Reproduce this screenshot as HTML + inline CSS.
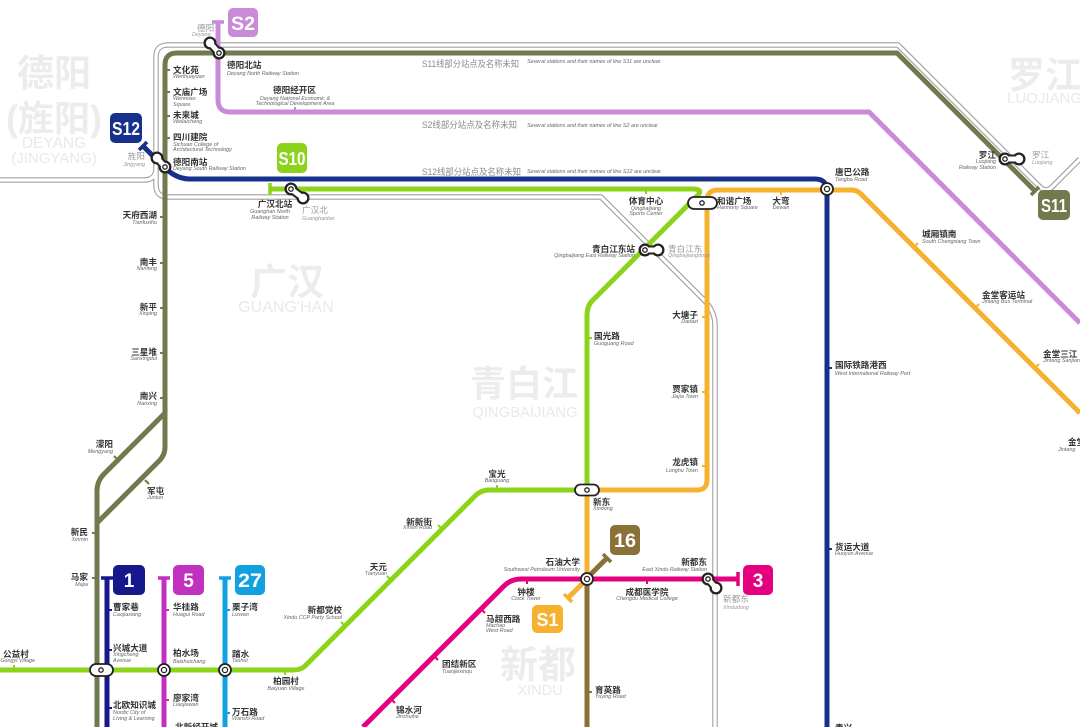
<!DOCTYPE html>
<html><head><meta charset="utf-8">
<style>
html,body{margin:0;padding:0;background:#fff;}
svg{display:block;}
.cn{font-family:"Liberation Sans","Noto Sans CJK SC",sans-serif;font-size:8.6px;font-weight:bold;fill:#333;}
.en{font-family:"Liberation Sans",sans-serif;font-size:5.4px;font-style:italic;fill:#666;}
.gcn{font-family:"Liberation Sans","Noto Sans CJK SC",sans-serif;font-size:8.6px;fill:#999;}
.gen{font-family:"Liberation Sans",sans-serif;font-size:5.4px;font-style:italic;fill:#999;}
.note{font-family:"Liberation Sans","Noto Sans CJK SC",sans-serif;font-size:9px;fill:#8a8a8a;}
.wm{font-family:"Liberation Sans","Noto Sans CJK SC",sans-serif;font-weight:bold;fill:#ececec;}
.wme{font-family:"Liberation Sans",sans-serif;fill:#e9e9e9;}
.bd{font-family:"Liberation Sans",sans-serif;font-weight:bold;fill:#fff;text-anchor:middle;}
</style></head>
<body>
<svg width="1080" height="727" viewBox="0 0 1080 727" xmlns="http://www.w3.org/2000/svg">
<rect width="1080" height="727" fill="#fff"/>

<!-- watermarks -->
<text class="wm" x="17" y="86" font-size="37">德阳</text>
<text class="wm" x="6" y="131" font-size="36">(旌阳)</text>
<text class="wme" x="54" y="148" font-size="15.5" text-anchor="middle">DEYANG</text>
<text class="wme" x="54" y="163" font-size="15" text-anchor="middle">(JINGYANG)</text>
<text class="wm" x="250" y="295" font-size="37">广汉</text>
<text class="wme" x="286" y="312" font-size="16" text-anchor="middle">GUANG'HAN</text>
<text class="wm" x="470" y="396" font-size="36">青白江</text>
<text class="wme" x="525" y="417" font-size="14.8" text-anchor="middle">QINGBAIJIANG</text>
<text class="wm" x="500" y="678" font-size="38">新都</text>
<text class="wme" x="540" y="695" font-size="14.5" text-anchor="middle">XINDU</text>
<text class="wm" x="1008" y="88" font-size="37">罗江</text>
<text class="wme" x="1007" y="103" font-size="15">LUOJIANG</text>

<!-- gray rails -->
<g fill="none" stroke-linejoin="round">
<path d="M0,180 H144 Q156,180 156,168 V57 Q156,45 168,45 H898 L1040,187 Q1046,193 1052,187 L1080,159" stroke="#a0a0a0" stroke-width="5.5"/>
<path d="M156,170 V185 Q156,197 168,197 H601 L703,299 Q715,311 715,325 V727" stroke="#a0a0a0" stroke-width="5.5"/>
<path d="M0,180 H144 Q156,180 156,168 V57 Q156,45 168,45 H898 L1040,187 Q1046,193 1052,187 L1080,159" stroke="#fff" stroke-width="3.3"/>
<path d="M156,170 V185 Q156,197 168,197 H601 L703,299 Q715,311 715,325 V727" stroke="#fff" stroke-width="3.3"/>
</g>

<!-- lines -->
<g fill="none" stroke-width="5" stroke-linejoin="round">
<path d="M218,22 V100 Q218,112 230,112 H869 L1080,323" stroke="#c98ad8"/>
<path d="M165,415 V65 Q165,53 177,53 H897 L1035,191" stroke="#707a4c"/>
<path d="M165,410 V447 Q165,455 159,461 L97,523" stroke="#707a4c"/>
<path d="M165,413 L104,474 Q97,481 97,491 V727" stroke="#707a4c"/>
<path d="M143,146 L162,165 Q175,179 190,179 H815 Q827,179 827,191 V727" stroke="#16318c"/>
<path d="M270,189 H693 Q704,189 697,196 L592,301 Q587,306 587,316 V490 H489 Q481,490 475,496 L305,666 Q301,670 293,670 H0" stroke="#8cd41a"/>
<path d="M568,598 L587,579 V490 H697 Q707,490 707,480 V201 Q707,190 718,190 H851 Q857,190 861,194 L1080,413" stroke="#f6b12e"/>
<path d="M607,558 L587,578 V727" stroke="#8a7137"/>
<path d="M738,579 H521 Q511,579 504,586 L363,727" stroke="#e4007f"/>
<path d="M107,578 V727" stroke="#16188c"/>
<path d="M164,578 V727" stroke="#c031c0"/>
<path d="M225,578 V727" stroke="#11a0e0"/>
</g>

<!-- terminus bars -->
<g stroke-width="3.5" fill="none">
<line x1="212" y1="22" x2="224" y2="22" stroke="#c98ad8"/>
<line x1="139" y1="150" x2="147" y2="142" stroke="#16318c"/>
<line x1="270" y1="183" x2="270" y2="195" stroke="#8cd41a"/>
<line x1="1031" y1="195" x2="1039" y2="187" stroke="#707a4c"/>
<line x1="101" y1="578" x2="113" y2="578" stroke="#16188c"/>
<line x1="158" y1="578" x2="170" y2="578" stroke="#c031c0"/>
<line x1="219" y1="578" x2="231" y2="578" stroke="#11a0e0"/>
<line x1="738" y1="572" x2="738" y2="586" stroke="#e4007f"/>
<line x1="603" y1="554" x2="611" y2="562" stroke="#8a7137"/>
<line x1="564" y1="594" x2="572" y2="602" stroke="#f6b12e"/>
</g>

<!-- ticks -->
<g stroke-width="2">
<g stroke="#707a4c">
<line x1="165" y1="70" x2="170" y2="70"/><line x1="165" y1="92" x2="170" y2="92"/>
<line x1="165" y1="116" x2="170" y2="116"/><line x1="165" y1="138" x2="170" y2="138"/>
<line x1="160" y1="217" x2="165" y2="217"/><line x1="160" y1="263" x2="165" y2="263"/>
<line x1="160" y1="308" x2="165" y2="308"/><line x1="160" y1="353" x2="165" y2="353"/>
<line x1="160" y1="398" x2="165" y2="398"/>
<line x1="118" y1="460" x2="114" y2="456"/><line x1="145" y1="480" x2="149" y2="484"/>
<line x1="92" y1="533" x2="97" y2="533"/><line x1="92" y1="578" x2="97" y2="578"/>
</g>
<line x1="295" y1="112" x2="295" y2="107" stroke="#c98ad8"/>
<g stroke="#16318c"><line x1="827" y1="368" x2="832" y2="368"/><line x1="827" y1="549" x2="832" y2="549"/></g>
<g stroke="#f6b12e">
<line x1="707" y1="317" x2="702" y2="317"/><line x1="707" y1="392" x2="702" y2="392"/><line x1="707" y1="466" x2="702" y2="466"/>
<line x1="781" y1="190" x2="781" y2="195"/>
<line x1="914" y1="247" x2="918" y2="243"/><line x1="975" y1="308" x2="979" y2="304"/><line x1="1035" y1="368" x2="1039" y2="364"/>
</g>
<g stroke="#8cd41a">
<line x1="646" y1="189" x2="646" y2="194"/><line x1="587" y1="338" x2="592" y2="338"/>
<line x1="497" y1="490" x2="497" y2="485"/><line x1="442" y1="529" x2="438" y2="525"/>
<line x1="391" y1="580" x2="387" y2="576"/><line x1="345" y1="626" x2="341" y2="622"/>
<line x1="285" y1="670" x2="285" y2="675"/><line x1="14" y1="670" x2="14" y2="665"/>
</g>
<g stroke="#e4007f">
<line x1="527" y1="579" x2="527" y2="584"/><line x1="647" y1="579" x2="647" y2="584"/>
<line x1="481" y1="609" x2="485" y2="613"/><line x1="434" y1="656" x2="438" y2="660"/><line x1="391" y1="699" x2="395" y2="703"/>
</g>
<g stroke="#16188c"><line x1="107" y1="610" x2="112" y2="610"/><line x1="107" y1="650" x2="112" y2="650"/><line x1="107" y1="708" x2="112" y2="708"/></g>
<g stroke="#c031c0"><line x1="164" y1="610" x2="169" y2="610"/><line x1="164" y1="700" x2="169" y2="700"/></g>
<g stroke="#11a0e0"><line x1="225" y1="610" x2="230" y2="610"/><line x1="225" y1="713" x2="230" y2="713"/></g>
<line x1="587" y1="692" x2="592" y2="692" stroke="#8a7137"/>
</g>

<!-- interchanges: dumbbells -->
<g>
<g stroke="#222" stroke-width="9" stroke-linecap="round"><line x1="210" y1="43" x2="219" y2="53"/><line x1="157" y1="158" x2="165" y2="167"/><line x1="291" y1="189" x2="303" y2="198"/><line x1="645" y1="250" x2="658" y2="250"/><line x1="708" y1="579" x2="716" y2="588"/><line x1="1005" y1="159" x2="1019" y2="159"/></g>
<g stroke="#222" fill="#222"><circle cx="210" cy="43" r="6"/><circle cx="219" cy="53" r="6"/><circle cx="157" cy="158" r="6"/><circle cx="165" cy="167" r="6"/><circle cx="291" cy="189" r="6"/><circle cx="303" cy="198" r="6"/><circle cx="645" cy="250" r="6"/><circle cx="658" cy="250" r="6"/><circle cx="708" cy="579" r="6"/><circle cx="716" cy="588" r="6"/><circle cx="1005" cy="159" r="6"/><circle cx="1019" cy="159" r="6"/></g>
<g stroke="#fff" stroke-width="5" stroke-linecap="round"><line x1="210" y1="43" x2="219" y2="53"/><line x1="157" y1="158" x2="165" y2="167"/><line x1="291" y1="189" x2="303" y2="198"/><line x1="645" y1="250" x2="658" y2="250"/><line x1="708" y1="579" x2="716" y2="588"/><line x1="1005" y1="159" x2="1019" y2="159"/></g>
<g fill="#fff"><circle cx="210" cy="43" r="4.2"/><circle cx="219" cy="53" r="4.2"/><circle cx="157" cy="158" r="4.2"/><circle cx="165" cy="167" r="4.2"/><circle cx="291" cy="189" r="4.2"/><circle cx="303" cy="198" r="4.2"/><circle cx="645" cy="250" r="4.2"/><circle cx="658" cy="250" r="4.2"/><circle cx="708" cy="579" r="4.2"/><circle cx="716" cy="588" r="4.2"/><circle cx="1005" cy="159" r="4.2"/><circle cx="1019" cy="159" r="4.2"/></g>
<g fill="none" stroke="#222" stroke-width="1.3"><circle cx="219" cy="53" r="2.2"/><circle cx="165" cy="167" r="2.2"/><circle cx="291" cy="189" r="2.2"/><circle cx="645" cy="250" r="2.2"/><circle cx="708" cy="579" r="2.2"/><circle cx="1005" cy="159" r="2.2"/></g>
</g>
<!-- pills & circles -->
<g fill="#fff" stroke="#222" stroke-width="1.8">
<rect x="688" y="197" width="29" height="12" rx="6"/>
<rect x="575" y="484.5" width="24" height="11" rx="5.5"/>
<rect x="90" y="664" width="23" height="12" rx="6"/>
<circle cx="827" cy="189" r="6"/>
<circle cx="587" cy="579" r="6"/>
<circle cx="164" cy="670" r="6"/>
<circle cx="225" cy="670" r="6"/>
</g>
<g fill="none" stroke="#222" stroke-width="1.3">
<circle cx="702" cy="203" r="2.2"/><circle cx="587" cy="490" r="2.2"/><circle cx="101" cy="670" r="2.2"/>
<circle cx="827" cy="189" r="2.6"/><circle cx="587" cy="579" r="2.6"/><circle cx="164" cy="670" r="2.6"/><circle cx="225" cy="670" r="2.6"/>
</g>

<!-- badges -->
<g>
<rect x="228" y="8" width="30" height="29" rx="5" fill="#c98ad8"/><text class="bd" x="243" y="30" font-size="19" textLength="24" lengthAdjust="spacingAndGlyphs">S2</text>
<rect x="110" y="113" width="32" height="30" rx="5" fill="#16318c"/><text class="bd" x="126" y="135" font-size="18" textLength="28" lengthAdjust="spacingAndGlyphs">S12</text>
<rect x="277" y="143" width="30" height="30" rx="5" fill="#8cd41a"/><text class="bd" x="292" y="165" font-size="18" textLength="27" lengthAdjust="spacingAndGlyphs">S10</text>
<rect x="1038" y="190" width="32" height="30" rx="5" fill="#707a4c"/><text class="bd" x="1054" y="212" font-size="18" textLength="26" lengthAdjust="spacingAndGlyphs">S11</text>
<rect x="113" y="565" width="32" height="30" rx="5" fill="#16188c"/><text class="bd" x="129" y="587" font-size="19">1</text>
<rect x="173" y="565" width="31" height="30" rx="5" fill="#c031c0"/><text class="bd" x="188.5" y="587" font-size="19">5</text>
<rect x="235" y="565" width="30" height="30" rx="5" fill="#11a0e0"/><text class="bd" x="250" y="587" font-size="19" textLength="24" lengthAdjust="spacingAndGlyphs">27</text>
<rect x="743" y="565" width="30" height="30" rx="5" fill="#e4007f"/><text class="bd" x="758" y="587" font-size="19">3</text>
<rect x="610" y="525" width="30" height="30" rx="5" fill="#8a7137"/><text class="bd" x="625" y="547" font-size="19" textLength="22" lengthAdjust="spacingAndGlyphs">16</text>
<rect x="532" y="605" width="31" height="28" rx="5" fill="#f6b12e"/><text class="bd" x="547.5" y="626" font-size="18" textLength="22" lengthAdjust="spacingAndGlyphs">S1</text>
</g>

<!-- notes -->
<text class="note" x="422" y="67" textLength="97" lengthAdjust="spacingAndGlyphs">S11线部分站点及名称未知</text>
<text class="en" x="527" y="63" fill="#888">Several stations and their names of line S11 are unclear</text>
<text class="note" x="422" y="128" textLength="95" lengthAdjust="spacingAndGlyphs">S2线部分站点及名称未知</text>
<text class="en" x="527" y="127">Several stations and their names of line S2 are unclear</text>
<text class="note" x="422" y="175" textLength="99" lengthAdjust="spacingAndGlyphs">S12线部分站点及名称未知</text>
<text class="en" x="527" y="173">Several stations and their names of line S12 are unclear</text>

<!-- labels -->
<text class="gcn" x="197" y="31">德阳</text><text class="gen" x="192" y="36">Deyang</text>
<text class="cn" x="227" y="68">德阳北站</text><text class="en" x="227" y="75">Deyang North Railway Station</text>
<text class="cn" x="273" y="93">德阳经开区</text>
<text class="en" x="295" y="100" text-anchor="middle">Deyang National Economic &amp;</text>
<text class="en" x="295" y="105" text-anchor="middle">Technological Development Area</text>

<text class="cn" x="173" y="73">文化苑</text><text class="en" x="173" y="78">Wenhuayuan</text>
<text class="cn" x="173" y="95">文庙广场</text><text class="en" x="173" y="100">Wenmiao</text><text class="en" x="173" y="106">Square</text>
<text class="cn" x="173" y="118">未来城</text><text class="en" x="173" y="123">Weilaicheng</text>
<text class="cn" x="173" y="140">四川建院</text><text class="en" x="173" y="146">Sichuan College of</text><text class="en" x="173" y="151">Architectural Technology</text>
<text class="cn" x="173" y="165">德阳南站</text><text class="en" x="173" y="170">Deyang South Railway Station</text>
<text class="gcn" x="145" y="159" text-anchor="end">旌阳</text><text class="gen" x="145" y="166" text-anchor="end">Jingyang</text>

<text class="cn" x="275" y="207" text-anchor="middle">广汉北站</text>
<text class="en" x="270" y="213" text-anchor="middle">Guanghan North</text><text class="en" x="270" y="219" text-anchor="middle">Railway Station</text>
<text class="gcn" x="302" y="213">广汉北</text><text class="gen" x="302" y="220">Guanghanbei</text>

<text class="cn" x="157" y="218" text-anchor="end">天府西湖</text><text class="en" x="157" y="224" text-anchor="end">Tianfuxihu</text>
<text class="cn" x="157" y="265" text-anchor="end">南丰</text><text class="en" x="157" y="270" text-anchor="end">Nanfeng</text>
<text class="cn" x="157" y="310" text-anchor="end">新平</text><text class="en" x="157" y="315" text-anchor="end">Xinping</text>
<text class="cn" x="157" y="355" text-anchor="end">三星堆</text><text class="en" x="157" y="360" text-anchor="end">Sanxingdui</text>
<text class="cn" x="157" y="399" text-anchor="end">南兴</text><text class="en" x="157" y="405" text-anchor="end">Nanxing</text>
<text class="cn" x="113" y="447" text-anchor="end">濛阳</text><text class="en" x="113" y="453" text-anchor="end">Mengyang</text>
<text class="cn" x="147" y="494">军屯</text><text class="en" x="147" y="499">Juntun</text>
<text class="cn" x="88" y="535" text-anchor="end">新民</text><text class="en" x="88" y="541" text-anchor="end">Xinmin</text>
<text class="cn" x="88" y="580" text-anchor="end">马家</text><text class="en" x="88" y="586" text-anchor="end">Majia</text>
<text class="cn" x="3" y="657">公益村</text><text class="en" x="35" y="662" text-anchor="end">Gongyi Village</text>

<text class="cn" x="113" y="610">曹家巷</text><text class="en" x="113" y="616">Caojiaxiang</text>
<text class="cn" x="113" y="651">兴城大道</text><text class="en" x="113" y="656">Xingcheng</text><text class="en" x="113" y="662">Avenue</text>
<text class="cn" x="113" y="708">北欧知识城</text><text class="en" x="113" y="714">Nordic City of</text><text class="en" x="113" y="720">Living &amp; Learning</text>
<text class="cn" x="173" y="610">华桂路</text><text class="en" x="173" y="616">Huagui Road</text>
<text class="cn" x="173" y="656">柏水场</text><text class="en" x="173" y="663">Baishuichang</text>
<text class="cn" x="173" y="701">廖家湾</text><text class="en" x="173" y="706">Liaojiawan</text>
<text class="cn" x="175" y="730">北新经开城</text>
<text class="cn" x="232" y="610">栗子湾</text><text class="en" x="232" y="616">Lizwan</text>
<text class="cn" x="232" y="657">踏水</text><text class="en" x="232" y="662">Tashui</text>
<text class="cn" x="232" y="715">万石路</text><text class="en" x="232" y="720">Wanshi Road</text>
<text class="cn" x="286" y="684" text-anchor="middle">柏园村</text><text class="en" x="286" y="690" text-anchor="middle">Baiyuan Village</text>
<text class="cn" x="342" y="613" text-anchor="end">新都党校</text><text class="en" x="342" y="619" text-anchor="end">Xindu CCP Party School</text>
<text class="cn" x="387" y="570" text-anchor="end">天元</text><text class="en" x="387" y="575" text-anchor="end">Tianyuan</text>
<text class="cn" x="432" y="525" text-anchor="end">新新街</text><text class="en" x="432" y="529" text-anchor="end">Xinxin Road</text>
<text class="cn" x="497" y="477" text-anchor="middle">宝光</text><text class="en" x="497" y="482" text-anchor="middle">Baoguang</text>

<text class="cn" x="593" y="505">新东</text><text class="en" x="593" y="510">Xindong</text>
<text class="cn" x="580" y="565" text-anchor="end">石油大学</text><text class="en" x="580" y="571" text-anchor="end">Southwest Petroleum University</text>
<text class="cn" x="526" y="595" text-anchor="middle">钟楼</text><text class="en" x="526" y="600" text-anchor="middle">Clock Tower</text>
<text class="cn" x="486" y="622">马超西路</text><text class="en" x="486" y="627">Machao</text><text class="en" x="486" y="632">West Road</text>
<text class="cn" x="442" y="667">团结新区</text><text class="en" x="442" y="673">Tuanjiexinqu</text>
<text class="cn" x="396" y="713">锦水河</text><text class="en" x="396" y="718">Jinshuihe</text>
<text class="cn" x="647" y="595" text-anchor="middle">成都医学院</text><text class="en" x="647" y="600" text-anchor="middle">Chengdu Medical College</text>
<text class="cn" x="707" y="565" text-anchor="end">新都东</text><text class="en" x="707" y="571" text-anchor="end">East Xindu Railway Station</text>
<text class="gcn" x="723" y="602">新都东</text><text class="gen" x="723" y="609">Xindudong</text>
<text class="cn" x="595" y="693">育英路</text><text class="en" x="595" y="698">Yuying Road</text>

<text class="cn" x="646" y="204" text-anchor="middle">体育中心</text><text class="en" x="646" y="210" text-anchor="middle">Qingbaijiang</text><text class="en" x="646" y="215" text-anchor="middle">Sports Center</text>
<text class="cn" x="717" y="204">和谐广场</text><text class="en" x="717" y="209">Harmony Square</text>
<text class="cn" x="781" y="204" text-anchor="middle">大弯</text><text class="en" x="781" y="209" text-anchor="middle">Dewan</text>
<text class="cn" x="835" y="175">唐巴公路</text><text class="en" x="835" y="181">Tangba Road</text>
<text class="cn" x="635" y="252" text-anchor="end">青白江东站</text><text class="en" x="635" y="257" text-anchor="end">Qingbaijiang East Railway Station</text>
<text class="gcn" x="668" y="252">青白江东</text><text class="gen" x="668" y="257">Qingbaijiangdong</text>
<text class="cn" x="594" y="339">国光路</text><text class="en" x="594" y="345">Guoguang Road</text>
<text class="cn" x="698" y="318" text-anchor="end">大塘子</text><text class="en" x="698" y="323" text-anchor="end">Dadazi</text>
<text class="cn" x="698" y="392" text-anchor="end">贾家镇</text><text class="en" x="698" y="398" text-anchor="end">Jiajia Town</text>
<text class="cn" x="698" y="465" text-anchor="end">龙虎镇</text><text class="en" x="698" y="472" text-anchor="end">Longhu Town</text>

<text class="cn" x="922" y="237">城厢镇南</text><text class="en" x="922" y="243">South Chengxiang Town</text>
<text class="cn" x="982" y="298">金堂客运站</text><text class="en" x="982" y="303">Jintang Bus Terminal</text>
<text class="cn" x="1043" y="357">金堂三江</text><text class="en" x="1043" y="362">Jintang Sanjiang</text>
<text class="cn" x="1068" y="445">金堂</text><text class="en" x="1058" y="451">Jintang</text>
<text class="cn" x="835" y="368">国际铁路港西</text><text class="en" x="835" y="375">West International Railway Port</text>
<text class="cn" x="835" y="550">货运大道</text><text class="en" x="835" y="555">Huoyun Avenue</text>
<text class="cn" x="835" y="731">青兴</text>

<text class="cn" x="996" y="158" text-anchor="end">罗江</text><text class="en" x="996" y="163" text-anchor="end">Luojiang</text><text class="en" x="996" y="169" text-anchor="end">Railway Station</text>
<text class="gcn" x="1032" y="158">罗江</text><text class="gen" x="1032" y="164">Luojiang</text>
</svg>
</body></html>
